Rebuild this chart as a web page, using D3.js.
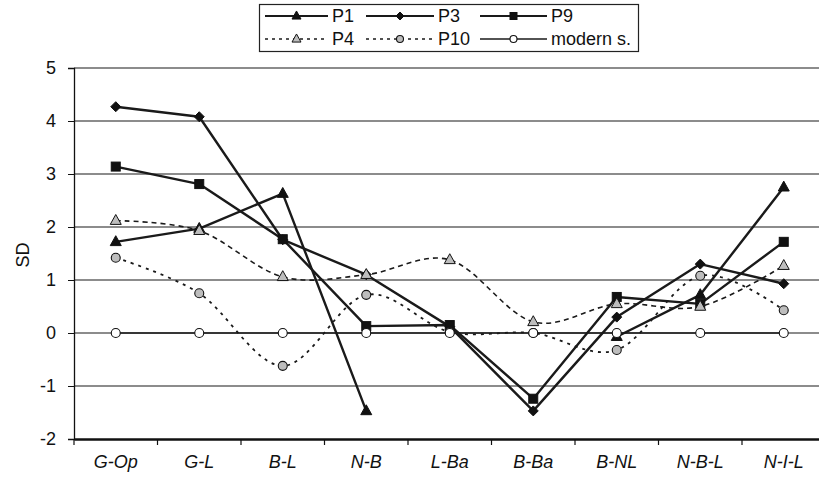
<!DOCTYPE html>
<html><head><meta charset="utf-8">
<script src="https://cdn.jsdelivr.net/npm/d3@7"></script>
<style>body{margin:0;background:#fff}svg{display:block}text{font-family:"Liberation Sans",Arial,sans-serif}</style>
</head><body><svg id="c" width="819" height="479"></svg>
<script>
const categories = ["G-Op","G-L","B-L","N-B","L-Ba","B-Ba","B-NL","N-B-L","N-I-L"];
const P1 = [1.72, 1.97, 2.63, -1.47, null, null, -0.07, 0.72, 2.75];
const P3 = [4.27, 4.08, 1.76, 1.1, 0.12, -1.47, 0.3, 1.3, 0.93];
const P9 = [3.14, 2.81, 1.77, 0.13, 0.15, -1.24, 0.68, 0.55, 1.72];
const P4 = [2.12, 1.93, 1.06, 1.1, 1.38, 0.21, 0.55, 0.5, 1.27];
const P10 = [1.42, 0.75, -0.62, 0.72, 0.02, 0.0, -0.32, 1.08, 0.43];
const modern = [0, 0, 0, 0, 0, 0, 0, 0, 0];
const yTicks = [-2, -1, 0, 1, 2, 3, 4, 5];
const seriesNames = ["P1","P3","P9","P4","P10","modern s."];

const svg = d3.select("#c");
const left = 74, bandW = 83.5;
const x = d3.scaleBand().domain(categories).range([left, left + bandW*categories.length]).paddingInner(0).paddingOuter(0);
const y = d3.scaleLinear().domain([-2, 5]).range([439, 68]);
const cx = c => x(c) + x.bandwidth()/2;

// gridlines
svg.append("g").selectAll("line").data(yTicks.filter(t => t > -2)).join("line")
  .attr("x1", left).attr("x2", 819).attr("y1", d => y(d)).attr("y2", d => y(d))
  .attr("stroke", "#666").attr("stroke-width", 1.3);

// y axis
const yAxis = d3.axisLeft(y).tickValues(yTicks).tickSize(6).tickPadding(12).tickFormat(d => String(d));
const gy = svg.append("g").attr("transform", `translate(${left},0)`).call(yAxis);
gy.select(".domain").attr("stroke", "#111").attr("stroke-width", 1.3);
gy.selectAll(".tick line").attr("stroke", "#111");
gy.selectAll("text").attr("font-size", 18).attr("fill", "#111").style("font-family", '"Liberation Sans",Arial,sans-serif');

// x axis
const xAxis = d3.axisBottom(x).tickSize(0).tickPadding(16);
const gx = svg.append("g").attr("transform", `translate(0,${y(-2)})`).call(xAxis);
gx.select(".domain").attr("stroke", "#111").attr("stroke-width", 2.6);
gx.selectAll("text").attr("font-size", 18).attr("font-style", "italic").attr("fill", "#111")
  .style("font-family", '"Liberation Sans",Arial,sans-serif');
// boundary ticks
svg.append("g").selectAll("line").data(categories).join("line")
  .attr("x1", d => x(d)).attr("x2", d => x(d)).attr("y1", y(-2)).attr("y2", y(-2) + 6)
  .attr("stroke", "#111").attr("stroke-width", 1.2);

// y label
svg.append("text").attr("transform", `translate(29,255) rotate(-90)`).attr("text-anchor", "middle")
  .attr("font-size", 18).attr("fill", "#111").text("SD");

const straight = d3.line().defined(d => d.v !== null).x(d => cx(d.c)).y(d => y(d.v));
const smooth = d3.line().defined(d => d.v !== null).x(d => cx(d.c)).y(d => y(d.v)).curve(d3.curveCatmullRom.alpha(0));

function marker(g, type, fill, px, py, s) {
  if (type === "tri") {
    const h = s*0.9;
    g.append("path").attr("d", `M${px},${py-h*0.62}L${px+s/2},${py+h*0.38}L${px-s/2},${py+h*0.38}Z`)
      .attr("fill", fill).attr("stroke", "#111").attr("stroke-width", 1);
  } else if (type === "dia") {
    const r = s/2;
    g.append("path").attr("d", `M${px},${py-r}L${px+r},${py}L${px},${py+r}L${px-r},${py}Z`).attr("fill", fill).attr("stroke", "#111").attr("stroke-width", 1);
  } else if (type === "sq") {
    g.append("rect").attr("x", px - s/2).attr("y", py - s/2).attr("width", s).attr("height", s).attr("fill", fill).attr("stroke", "#111").attr("stroke-width", 1);
  } else if (type === "circ") {
    g.append("circle").attr("cx", px).attr("cy", py).attr("r", s/2).attr("fill", fill).attr("stroke", "#111").attr("stroke-width", 1.1);
  }
}

const series = [
  {name: "P1", vals: P1, gen: straight, dash: null, w: 2.4, m: "tri", fill: "#111", s: 11},
  {name: "P3", vals: P3, gen: straight, dash: null, w: 2.4, m: "dia", fill: "#111", s: 10},
  {name: "P9", vals: P9, gen: straight, dash: null, w: 2.4, m: "sq", fill: "#111", s: 9},
  {name: "P4", vals: P4, gen: smooth, dash: "5,4", w: 1.6, m: "tri", fill: "#bdbdbd", s: 11},
  {name: "P10", vals: P10, gen: smooth, dash: "3,5", w: 1.8, m: "circ", fill: "#bdbdbd", s: 9},
  {name: "modern s.", vals: modern, gen: straight, dash: null, w: 1.5, m: "circ", fill: "#fff", s: 9}
];

series.forEach(s => {
  const data = categories.map((c, i) => ({c, v: s.vals[i]}));
  const g = svg.append("g");
  g.append("path").attr("d", s.gen(data)).attr("fill", "none").attr("stroke", "#1a1a1a")
    .attr("stroke-width", s.w).attr("stroke-dasharray", s.dash).attr("stroke-linejoin", "round");
  data.filter(d => d.v !== null).forEach(d => marker(g, s.m, s.fill, cx(d.c), y(d.v), s.s));
});

// legend
const lg = svg.append("g");
lg.append("rect").attr("x", 259.5).attr("y", 4.5).attr("width", 379).attr("height", 47).attr("fill", "#fff").attr("stroke", "#222").attr("stroke-width", 1.2);
const colX = [[265, 328], [366, 434], [480, 547]];
series.forEach((s, i) => {
  const row = Math.floor(i/3), col = i % 3;
  const ly = row === 0 ? 16 : 39;
  const [x0, x1] = colX[col];
  lg.append("line").attr("x1", x0).attr("x2", x1).attr("y1", ly).attr("y2", ly).attr("stroke", "#1a1a1a")
    .attr("stroke-width", s.dash ? 1.4 : (s.w > 2 ? 2.2 : 1.4)).attr("stroke-dasharray", s.dash ? "3,4" : null);
  marker(lg, s.m, s.fill, (x0 + x1)/2, ly, s.s - 2);
  lg.append("text").attr("x", x1 + 4).attr("y", ly).attr("dy", "0.36em").attr("font-size", 18).attr("fill", "#111").text(s.name);
});
</script></body></html>
